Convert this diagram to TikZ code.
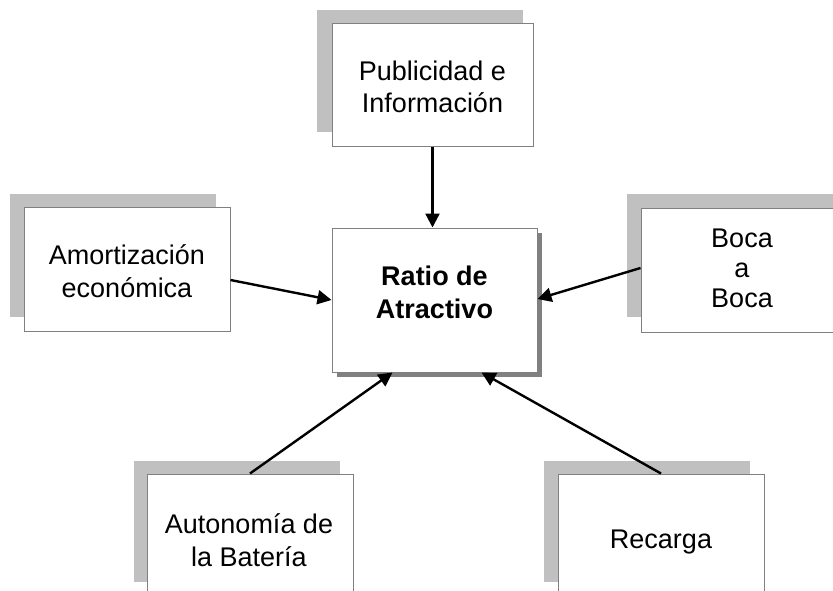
\documentclass[tikz,border=0pt]{standalone}
\usepackage{fontspec}
\setmainfont{Liberation Sans}
\usetikzlibrary{arrows.meta,calc}
\definecolor{shadelight}{HTML}{C0C0C0}
\definecolor{shadedark}{HTML}{808080}
\definecolor{boxline}{HTML}{808080}
\tikzset{
  x=1pt,y=-1pt,
  boxnode/.style={draw=boxline,line width=1pt,fill=white,inner sep=0pt,align=center,
    font=\fontsize{27}{32.5}\selectfont},
  lightshade/.style={fill=shadelight},
  darkshade/.style={fill=shadedark},
  txt/.style={align=center,inner sep=0pt,font=\fontsize{27}{32.5}\selectfont},
  conn/.style={line width=2.4pt,-{Triangle[length=14pt,width=14pt]}}
}
\begin{document}
\begin{tikzpicture}
\useasboundingbox (0,0) rectangle (833,591);
\begin{scope}
\clip (0,0) rectangle (833,591);
% shadows
\fill[lightshade] (317,10) rectangle (523,132);
\fill[lightshade] (10,194) rectangle (216,317);
\fill[lightshade] (627,194) rectangle (840,317);
\fill[lightshade] (134,461) rectangle (340,582);
\fill[lightshade] (544,461) rectangle (750,582);
\fill[darkshade] (337,233) rectangle (542,377);
% boxes
\node[boxnode,minimum width=201pt,minimum height=123pt] (pub) at (432.5,85.5) {};
\node[txt] (pubt) at (432.5,87) {Publicidad e\\Información};
\node[boxnode,minimum width=206pt,minimum height=124pt] (amort) at (127,269) {};
\node[txt] (amortt) at (127,271) {Amortización\\económica};
\node[boxnode,minimum width=206pt,minimum height=124pt] (boca) at (744,270) {};
\node[txt,font=\fontsize{27}{30}\selectfont] (bocat) at (742,268) {Boca\\a\\Boca};
\node[boxnode,minimum width=205pt,minimum height=144pt] (ratio) at (434.5,300) {};
\node[txt,font=\fontsize{27}{33}\bfseries\selectfont] (ratiot) at (434.5,292) {Ratio de\\Atractivo};
\node[boxnode,minimum width=206pt,minimum height=135pt] (auton) at (250,541.5) {};
\node[txt] (autont) at (249,540) {Autonomía de\\la Batería};
\node[boxnode,minimum width=206pt,minimum height=135pt] (recarga) at (661,541.5) {};
\node[txt] (recargat) at (661,542) {Recarga};
\end{scope}
% connectors
\draw[conn] (pub.south) -- (pub.south |- ratio.north);
\draw[conn] ([yshift=-11pt]amort.east) -- (ratio.west);
\draw[conn] ([yshift=2pt]boca.west) -- ([yshift=1pt]ratio.east);
\draw[conn] (auton.north) -- ([xshift=-42pt]ratio.south);
\draw[conn] (recarga.north) -- ([xshift=47pt]ratio.south);
\end{tikzpicture}
\end{document}
